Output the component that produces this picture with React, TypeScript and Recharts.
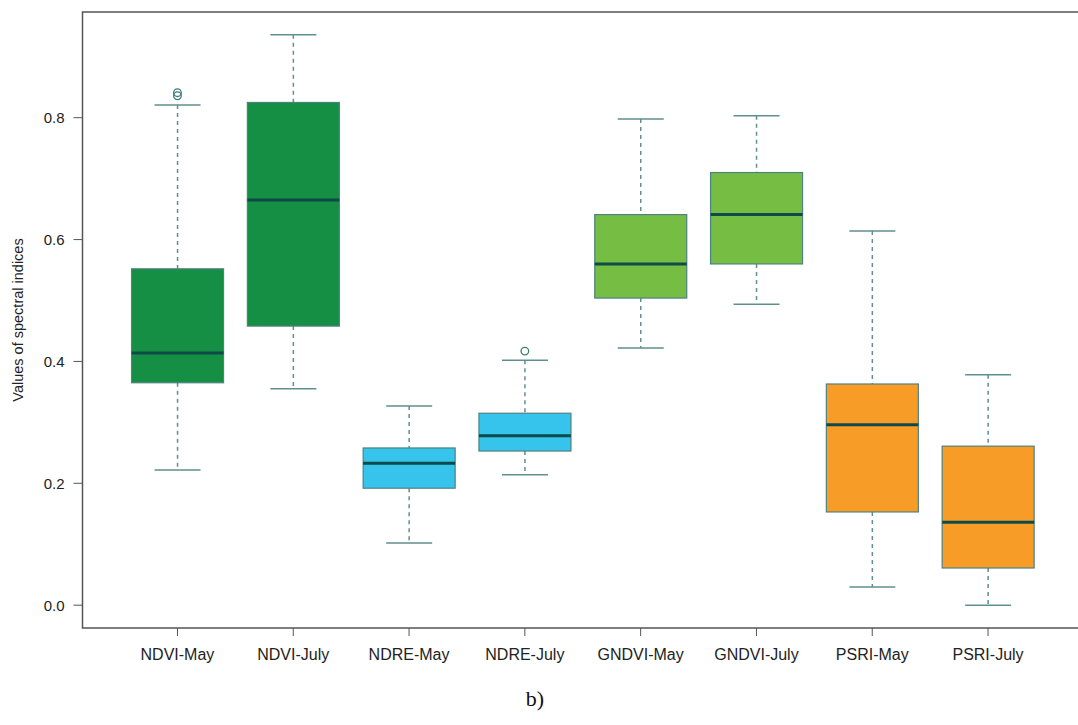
import React from 'react';
import { ComposedChart, Bar, Scatter, XAxis, YAxis, ReferenceArea } from 'recharts';

const categories = ['NDVI-May', 'NDVI-July', 'NDRE-May', 'NDRE-July', 'GNDVI-May', 'GNDVI-July', 'PSRI-May', 'PSRI-July'];
const whiskerLow = [0.222, 0.355, 0.102, 0.214, 0.422, 0.494, 0.03, 0.0];
const lowerQuartile = [0.365, 0.458, 0.192, 0.253, 0.504, 0.56, 0.153, 0.061];
const medians = [0.414, 0.665, 0.233, 0.278, 0.56, 0.641, 0.296, 0.136];
const upperQuartile = [0.552, 0.825, 0.258, 0.315, 0.641, 0.71, 0.363, 0.261];
const whiskerHigh = [0.821, 0.936, 0.327, 0.402, 0.798, 0.803, 0.614, 0.378];
const outlierGroups = ['NDVI-May', 'NDVI-May', 'NDRE-July'];
const outlierValues = [0.841, 0.836, 0.417];
const yTicks = [0, 0.2, 0.4, 0.6, 0.8];

const boxColors = ['#148f43', '#148f43', '#37c4ec', '#37c4ec', '#76bd43', '#76bd43', '#f89c28', '#f89c28'];
const whiskerColor = '#5f8f8f';
const borderColor = '#4f8181';
const medianColor = '#0f4a4b';
const frameColor = '#555';
const font = 'Liberation Sans, Arial, sans-serif';

const data = categories.map((name, i) => ({
  name,
  pos: i + 1,
  min: whiskerLow[i],
  q1: lowerQuartile[i],
  median: medians[i],
  q3: upperQuartile[i],
  max: whiskerHigh[i],
}));

const outliers = outlierGroups.map((g, i) => ({ pos: categories.indexOf(g) + 1, value: outlierValues[i] }));

// range bar [min, max]; the shape maps the other stats with the same linear scale
function BoxShape(props: any) {
  const { x, y, width, height, payload, index } = props;
  const { min, q1, median, q3, max } = payload;
  const toY = (v: number) => y + (height * (max - v)) / (max - min);
  const cx = x + width / 2;
  const cap = width / 4;
  return (
    <g>
      <line x1={cx} x2={cx} y1={toY(max)} y2={toY(q3)} stroke={whiskerColor} strokeWidth={1.5} strokeDasharray="4 4" />
      <line x1={cx} x2={cx} y1={toY(q1)} y2={toY(min)} stroke={whiskerColor} strokeWidth={1.5} strokeDasharray="4 4" />
      <line x1={cx - cap} x2={cx + cap} y1={toY(max)} y2={toY(max)} stroke={whiskerColor} strokeWidth={1.5} />
      <line x1={cx - cap} x2={cx + cap} y1={toY(min)} y2={toY(min)} stroke={whiskerColor} strokeWidth={1.5} />
      <rect x={x} y={toY(q3)} width={width} height={toY(q1) - toY(q3)} fill={boxColors[index]} stroke={borderColor} strokeWidth={1.2} />
      <line x1={x} x2={x + width} y1={toY(median)} y2={toY(median)} stroke={medianColor} strokeWidth={3} />
    </g>
  );
}

function OutlierShape(props: any) {
  const { cx, cy } = props;
  return <circle cx={cx} cy={cy} r={3.8} fill="none" stroke="#3f7c7c" strokeWidth={1.3} />;
}

function YLabel(props: any) {
  const { viewBox } = props;
  const cy = viewBox.y + viewBox.height / 2;
  return (
    <text x={18} y={cy} transform={`rotate(-90, 18, ${cy})`} textAnchor="middle" dominantBaseline="central" fontSize={14.5} fill="#222" fontFamily={font}>
      Values of spectral indices
    </text>
  );
}

export default function App() {
  return (
    <div style={{ position: 'absolute', left: 0, top: 0, width: 1078, height: 725, overflow: 'hidden', background: '#fff' }}>
      <ComposedChart width={1084} height={690} data={data} margin={{ top: 12, right: 1, bottom: 22, left: 22.5 }}>
        <XAxis
          dataKey="pos"
          type="number"
          domain={[0.18, 8.82]}
          allowDataOverflow
          ticks={[1, 2, 3, 4, 5, 6, 7, 8]}
          tickFormatter={(v: number) => categories[v - 1]}
          interval={0}
          height={40}
          axisLine={false}
          tickSize={8}
          tickMargin={13}
          tickLine={{ stroke: frameColor }}
          tick={{ fill: '#222', fontSize: 16, fontFamily: font }}
        />
        <YAxis
          type="number"
          domain={[-0.03744, 0.97344]}
          allowDataOverflow
          ticks={yTicks}
          tickFormatter={(v: number) => v.toFixed(1)}
          width={60}
          axisLine={false}
          tickSize={9}
          tickMargin={9}
          tickLine={{ stroke: frameColor }}
          tick={{ fill: '#222', fontSize: 15, fontFamily: font }}
          label={{ content: YLabel }}
        />
        <ReferenceArea x1={0.18} x2={8.82} y1={-0.03744} y2={0.97344} fill="none" stroke={frameColor} strokeWidth={1.5} />
        <Bar dataKey={(d: any) => [d.min, d.max]} barSize={92} shape={BoxShape} isAnimationActive={false} />
        <Scatter data={outliers} dataKey="value" shape={OutlierShape} isAnimationActive={false} />
      </ComposedChart>
      <div style={{ position: 'absolute', left: 0, width: 1070, top: 686, textAlign: 'center', fontFamily: 'Liberation Serif, Times New Roman, serif', fontSize: 22, color: '#111' }}>
        b)
      </div>
    </div>
  );
}
